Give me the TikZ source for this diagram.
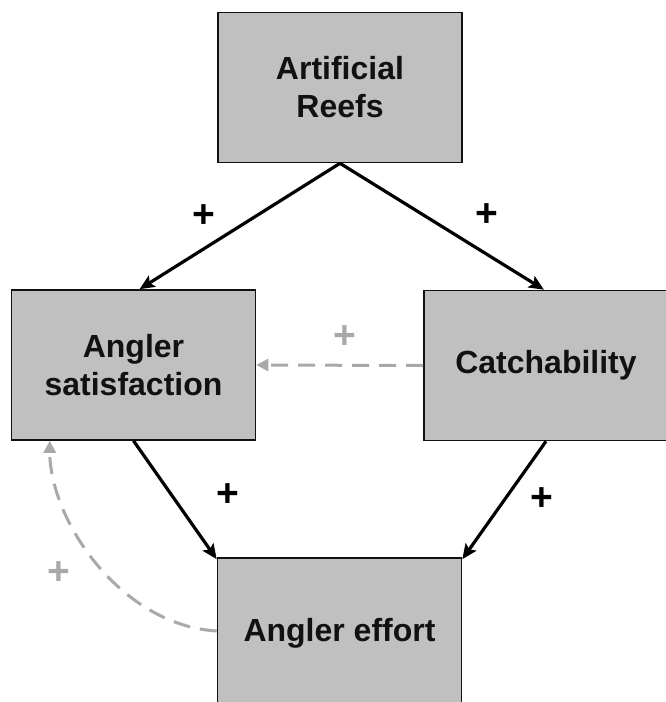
\documentclass[tikz,border=0pt]{standalone}
\usepackage{fontspec}
\setmainfont{Liberation Sans}
\usetikzlibrary{arrows.meta,calc}
\definecolor{boxfill}{HTML}{C0C0C0}
\definecolor{dashgray}{HTML}{A9A9A9}
\definecolor{ink}{HTML}{111111}
\tikzset{
  box/.style={draw=ink, line width=1.6pt, fill=boxfill, minimum width=244pt, minimum height=150pt,
    inner sep=0pt, align=center, text=ink, font=\fontsize{32}{38}\selectfont\bfseries},
  solidarrow/.style={draw=black, line width=3.2pt, -{Stealth[length=15pt,width=13pt,inset=3pt]}},
  dasharrow/.style={draw=dashgray, line width=3pt, dash pattern=on 17pt off 10pt,
    -{Triangle[length=12pt,width=12pt]}},
  plus/.style={font=\fontsize{39}{39}\selectfont\bfseries, text=black, inner sep=0pt},
  gplus/.style={plus, text=dashgray}
}
\begin{document}
\begin{tikzpicture}[x=1pt,y=-1pt]
\useasboundingbox (0,0) rectangle (665,702);
\node[box] (reefs) at (340,87.5) {Artificial\\Reefs};
\node[box] (sat) at (133.5,365) {Angler\\satisfaction};
\node[box] (catch) at (546,365.5) {Catchability};
\node[box] (effort) at (339.5,633) {Angler effort};

\draw[solidarrow] (reefs.south) -- ([xshift=6pt]sat.north);
\draw[solidarrow] (reefs.south) -- ([xshift=-2pt]catch.north);
\draw[solidarrow] (sat.south) -- ([yshift=-2pt]effort.north west);
\draw[solidarrow] (catch.south) -- ([yshift=-2pt]effort.north east);

\draw[dasharrow] (catch.west) -- (sat.east);
\draw[dasharrow] ([yshift=2pt]effort.west) .. controls (120,625) and (50,520) .. ([xshift=39pt]sat.south west);

\node[plus] (p1) at (204,216) {+};
\node[plus] (p2) at (487,215) {+};
\node[plus] (p3) at (228,495) {+};
\node[plus] (p4) at (542,499) {+};
\node[gplus] (p5) at (345,337) {+};
\node[gplus] (p6) at (59,573) {+};
\end{tikzpicture}
\end{document}
